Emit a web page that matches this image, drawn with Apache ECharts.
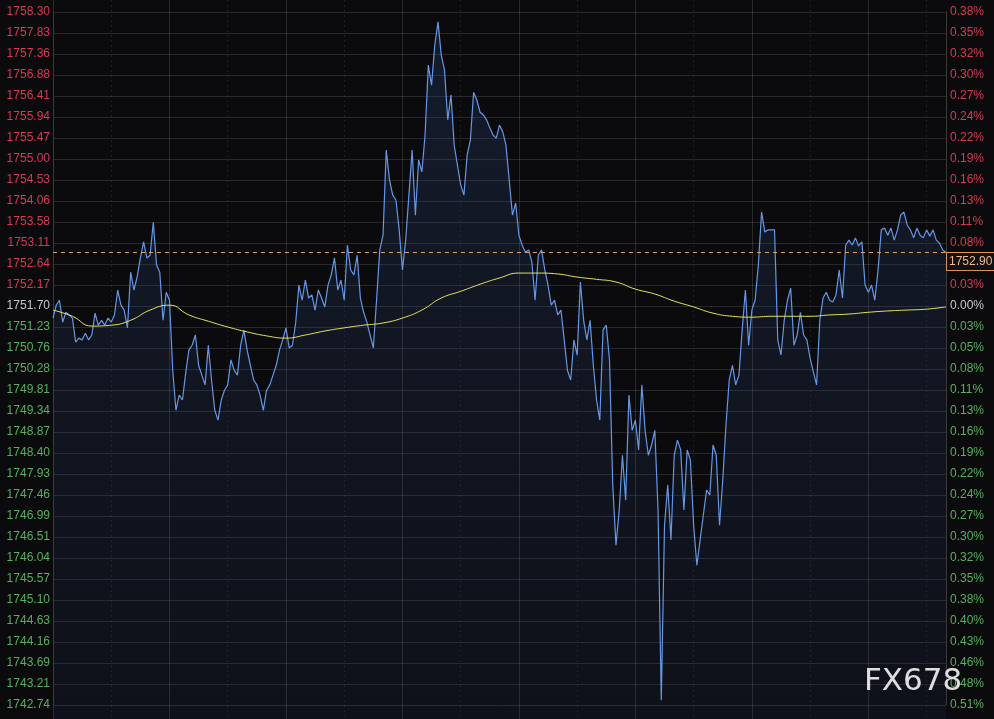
<!DOCTYPE html>
<html>
<head>
<meta charset="utf-8">
<style>
html,body{margin:0;padding:0;background:#0b0b0d;}
#chart{width:994px;height:719px;}
</style>
<script src="https://cdn.jsdelivr.net/npm/echarts@6/dist/echarts.min.js"></script>
</head>
<body>
<div id="chart"></div>
<script>
// ---- data ----
const prices = [
1751.43,1751.72,1751.83,1751.34,1751.56,1751.50,1751.43,1750.89,1750.98,1750.94,
1751.09,1750.94,1751.05,1751.54,1751.27,1751.38,1751.27,1751.43,1751.34,1751.50,
1752.06,1751.72,1751.61,1751.21,1752.46,1752.06,1752.35,1752.78,1753.14,1752.78,
1752.84,1753.58,1752.62,1752.46,1751.38,1752.01,1751.83,1750.26,1749.36,1749.70,
1749.59,1750.19,1750.71,1750.82,1751.05,1750.37,1750.15,1749.93,1750.82,1750.04,
1749.36,1749.14,1749.59,1749.81,1749.93,1750.49,1750.26,1750.15,1750.82,1751.16,
1750.71,1750.37,1750.04,1749.93,1749.70,1749.36,1749.81,1749.93,1750.15,1750.37,
1750.71,1750.94,1751.21,1750.76,1750.82,1751.32,1752.17,1751.83,1752.28,1751.88,
1751.95,1751.61,1752.06,1751.88,1751.68,1752.17,1752.40,1752.78,1752.06,1752.28,
1751.83,1753.07,1752.51,1752.40,1752.84,1751.88,1751.56,1751.34,1751.05,1750.76,
1751.83,1752.96,1753.29,1755.20,1754.53,1754.19,1754.08,1753.41,1752.51,1753.18,
1754.19,1755.20,1753.74,1754.98,1754.71,1755.54,1757.11,1756.66,1757.56,1758.08,
1757.33,1757.00,1755.88,1756.44,1755.31,1754.86,1754.42,1754.19,1755.09,1755.43,
1756.50,1756.32,1756.05,1755.99,1755.88,1755.70,1755.54,1755.47,1755.76,1755.61,
1755.31,1754.53,1753.74,1754.01,1753.29,1753.07,1752.91,1752.96,1752.69,1751.83,
1752.84,1752.96,1752.51,1752.17,1751.72,1751.83,1751.50,1751.61,1750.94,1750.26,
1750.04,1750.94,1750.60,1752.24,1751.38,1750.94,1751.38,1750.37,1749.59,1749.14,
1751.16,1751.27,1750.49,1747.68,1746.33,1747.12,1748.35,1747.34,1749.70,1748.91,
1749.14,1748.47,1749.93,1748.91,1748.35,1748.58,1748.91,1747.12,1742.85,1746.78,
1747.68,1746.45,1748.35,1748.69,1748.47,1747.12,1748.47,1748.24,1746.78,1745.88,
1746.45,1747.01,1747.57,1747.46,1748.58,1748.35,1746.78,1747.79,1749.03,1750.04,
1750.37,1749.93,1750.15,1751.16,1752.06,1750.82,1751.61,1751.83,1752.62,1753.81,
1753.36,1753.41,1753.41,1753.41,1750.94,1750.60,1751.38,1751.83,1752.10,1750.82,
1751.05,1751.56,1751.05,1750.94,1750.53,1750.22,1749.93,1751.38,1751.88,1752.01,
1751.83,1751.79,1751.95,1752.51,1751.88,1753.07,1753.18,1753.07,1753.23,1753.05,
1753.14,1752.17,1752.01,1752.17,1751.83,1752.51,1753.41,1753.45,1753.29,1753.45,
1753.18,1753.41,1753.74,1753.81,1753.52,1753.41,1753.23,1753.45,1753.29,1753.23,
1753.41,1753.27,1753.41,1753.18,1753.11,1752.96,1752.90
];
const avgValues = [
1751.61,1751.47,1751.25,1751.27,1751.38,1751.61,1751.72,1751.50,1751.36,1751.23,
1751.12,1751.03,1750.98,1751.05,1751.14,1751.21,1751.27,1751.32,1751.43,1751.61,
1751.88,1752.03,1752.19,1752.33,1752.44,1752.44,1752.42,1752.35,1752.30,1752.24,
1752.08,1751.97,1751.81,1751.68,1751.54,1751.47,1751.45,1751.47,1751.47,1751.47,
1751.50,1751.52,1751.56,1751.59,1751.61,1751.63,1751.68
];
const leftLabels = [
'1758.30','1757.83','1757.36','1756.88','1756.41','1755.94','1755.47','1755.00','1754.53','1754.06',
'1753.58','1753.11','1752.64','1752.17','1751.70','1751.23','1750.76','1750.28','1749.81','1749.34',
'1748.87','1748.40','1747.93','1747.46','1746.99','1746.51','1746.04','1745.57','1745.10','1744.63',
'1744.16','1743.69','1743.21','1742.74'
];
const rightLabels = [
'0.38%','0.35%','0.32%','0.30%','0.27%','0.24%','0.22%','0.19%','0.16%','0.13%',
'0.11%','0.08%','0.05%','0.03%','0.00%','0.03%','0.05%','0.08%','0.11%','0.13%',
'0.16%','0.19%','0.22%','0.24%','0.27%','0.30%','0.32%','0.35%','0.38%','0.40%',
'0.43%','0.46%','0.48%','0.51%'
];
const baseIndex = 14;          // row of the previous close (1751.70 / 0.00%)
const lastPrice = 1752.90;
const watermark = 'FX678';

// time categories (5-minute bars for price, 30-minute points for average)
function timeList(n, step){
  const out = [];
  for (let i = 0; i < n; i++) {
    const m = (6 * 60 + i * step) % 1440;
    out.push(String(Math.floor(m / 60)).padStart(2, '0') + ':' + String(m % 60).padStart(2, '0'));
  }
  return out;
}
const times = timeList(prices.length, 5);
const avgTimes = timeList(avgValues.length, 30);

const RED = '#d83a55', GREEN = '#57b05f', GREY = '#c8c8c8';
function labelColor(value, index){
  return index < baseIndex ? RED : (index === baseIndex ? GREY : GREEN);
}

const chart = echarts.init(document.getElementById('chart'), null, {renderer: 'canvas'});
chart.setOption({
  backgroundColor: '#0b0b0d',
  animation: false,
  grid: [
    {left: 53, right: 48, top: 12, bottom: 14},
    {left: 53, right: 48, top: 0, bottom: 0}
  ],
  xAxis: [
    {
      type: 'category', gridIndex: 1, data: times, boundaryGap: false,
      axisLine: {show: false}, axisTick: {show: false}, axisLabel: {show: false},
      splitLine: {show: true, interval: function(i){ return i % 36 === 0; },
                  lineStyle: {color: 'rgba(255,255,255,0.13)', width: 1}}
    },
    {
      type: 'category', gridIndex: 1, data: avgTimes, boundaryGap: false,
      axisLine: {show: false}, axisTick: {show: false}, axisLabel: {show: false},
      splitLine: {show: true, interval: function(i){ return i % 6 === 3; },
                  lineStyle: {color: 'rgba(255,255,255,0.08)', width: 1, type: [2, 3]}}
    },
    {type: 'value', gridIndex: 0, show: false}
  ],
  yAxis: [
    {
      type: 'category', gridIndex: 0, data: leftLabels, inverse: true, boundaryGap: false,
      position: 'left',
      axisLine: {show: true, lineStyle: {color: '#3a3a3a'}},
      axisTick: {show: false},
      axisLabel: {interval: 0, margin: 3, fontSize: 12, fontFamily: 'Liberation Sans, Arial, sans-serif', color: labelColor},
      splitLine: {show: true, interval: 0, lineStyle: {color: 'rgba(255,255,255,0.12)', width: 1}}
    },
    {
      type: 'category', gridIndex: 0, data: rightLabels, inverse: true, boundaryGap: false,
      position: 'right',
      axisLine: {show: true, lineStyle: {color: '#3a3a3a'}},
      axisTick: {show: false},
      axisLabel: {interval: 0, margin: 4, fontSize: 12, fontFamily: 'Liberation Sans, Arial, sans-serif', color: labelColor},
      splitLine: {show: false}
    },
    {
      type: 'value', gridIndex: 1,
      min: 1742.43, max: 1758.57,
      show: false, splitLine: {show: false}
    }
  ],
  series: [
    {
      name: 'price', type: 'line', xAxisIndex: 0, yAxisIndex: 2,
      data: prices, showSymbol: false, symbol: 'none',
      lineStyle: {color: '#6597e4', width: 1.2},
      areaStyle: {
        origin: 'start',
        color: new echarts.graphic.LinearGradient(0, 0, 0, 1, [
          {offset: 0, color: 'rgba(50,80,140,0.34)'},
          {offset: 1, color: 'rgba(40,60,110,0.18)'}
        ])
      },
      markLine: {
        silent: true, symbol: 'none',
        lineStyle: {color: '#dfa068', type: [4, 4], width: 1},
        label: {
          show: true, position: 'end', distance: 1, offset: [0, 9],
          formatter: lastPrice.toFixed(2),
          color: '#f2b88a', fontSize: 12, fontFamily: 'Liberation Sans, Arial, sans-serif',
          backgroundColor: '#121212', borderColor: '#e0905a', borderWidth: 1,
          padding: [3, 3, 2, 2]
        },
        data: [{yAxis: lastPrice}]
      },
      z: 3
    },
    {
      name: 'avg', type: 'line', xAxisIndex: 1, yAxisIndex: 2,
      data: avgValues, showSymbol: false, symbol: 'none', smooth: true,
      lineStyle: {color: '#e4e45e', width: 1},
      z: 4
    }
  ],
  graphic: [{
    type: 'text', left: 864, top: 666, z: 100,
    style: {text: watermark, font: '31px "DejaVu Sans", sans-serif', fill: 'rgba(240,240,240,0.92)'}
  }]
});
</script>
</body>
</html>
